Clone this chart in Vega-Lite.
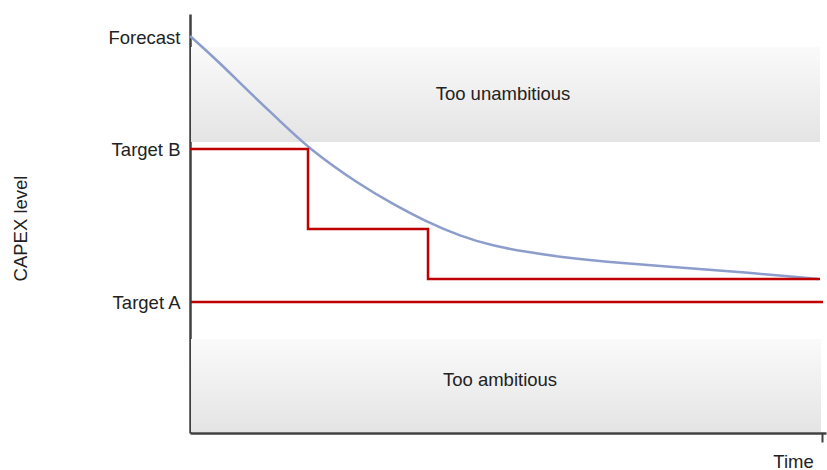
{
  "$schema": "https://vega.github.io/schema/vega-lite/v6.json",
  "width": 636,
  "height": 419,
  "autosize": "none",
  "padding": {"left": 190, "top": 14, "right": 1, "bottom": 37},
  "background": "white",
  "config": {
    "view": {"stroke": null},
    "font": "Liberation Sans",
    "text": {"font": "Liberation Sans"}
  },
  "datasets": {
    "bands": [
      {"band": "Too unambitious", "x": 1, "x2": 630, "y": 291, "y2": 386, "lx": 313, "ly": 339},
      {"band": "Too ambitious", "x": 1, "x2": 631, "y": 1, "y2": 94, "lx": 310, "ly": 53}
    ],
    "forecast": [
      {"t": 0, "v": 397},
      {"t": 30, "v": 370},
      {"t": 57, "v": 343},
      {"t": 90, "v": 312},
      {"t": 118, "v": 285},
      {"t": 170, "v": 248},
      {"t": 203, "v": 229},
      {"t": 237, "v": 211},
      {"t": 270, "v": 197},
      {"t": 303, "v": 187},
      {"t": 337, "v": 181},
      {"t": 370, "v": 176},
      {"t": 417, "v": 171},
      {"t": 483, "v": 166},
      {"t": 550, "v": 161},
      {"t": 628, "v": 154}
    ],
    "targetB": [
      {"i": 0, "t": 0, "v": 284},
      {"i": 1, "t": 118, "v": 284},
      {"i": 2, "t": 118, "v": 204},
      {"i": 3, "t": 238, "v": 204},
      {"i": 4, "t": 238, "v": 154},
      {"i": 5, "t": 630, "v": 154}
    ],
    "targetA": [
      {"i": 0, "t": 1, "v": 131},
      {"i": 1, "t": 633, "v": 131}
    ]
  },
  "layer": [
    {
      "data": {"name": "bands"},
      "mark": {
        "type": "rect",
        "color": {
          "gradient": "linear",
          "x1": 0, "y1": 0, "x2": 0, "y2": 1,
          "stops": [
            {"offset": 0, "color": "#fafafa"},
            {"offset": 1, "color": "#e4e4e4"}
          ]
        }
      },
      "encoding": {
        "x": {
          "field": "x", "type": "quantitative",
          "scale": {"domain": [0, 636], "nice": false, "zero": false},
          "axis": {
            "title": "Time",
            "titleFontSize": 18.5,
            "titleFontWeight": "normal",
            "titleColor": "#222222",
            "titleX": 603,
            "titleY": 28,
            "titleAlign": "center",
            "titleBaseline": "middle",
            "values": [636],
            "labels": false,
            "ticks": true,
            "tickSize": 9,
            "tickOffset": -4,
            "tickColor": "#404040",
            "tickWidth": 2,
            "grid": false,
            "domainColor": "#404040",
            "domainWidth": 2.5
          }
        },
        "x2": {"field": "x2"},
        "y": {
          "field": "y", "type": "quantitative",
          "scale": {"domain": [0, 419], "nice": false, "zero": false},
          "axis": {
            "title": "CAPEX level",
            "titleFontSize": 18.5,
            "titleFontWeight": "normal",
            "titleColor": "#222222",
            "titleX": -170,
            "titleY": 214,
            "titleAngle": -90,
            "titleAlign": "center",
            "titleBaseline": "middle",
            "values": [396, 284, 131],
            "labelExpr": "datum.value == 396 ? 'Forecast' : datum.value == 284 ? 'Target B' : 'Target A'",
            "labelFontSize": 18.5,
            "labelColor": "#222222",
            "labelPadding": 10,
            "ticks": false,
            "grid": false,
            "domainColor": "#404040",
            "domainWidth": 2.5
          }
        },
        "y2": {"field": "y2"}
      }
    },
    {
      "data": {"name": "bands"},
      "mark": {"type": "text", "fontSize": 18.5, "color": "#222222", "align": "center", "baseline": "middle"},
      "encoding": {
        "x": {"field": "lx", "type": "quantitative"},
        "y": {"field": "ly", "type": "quantitative"},
        "text": {"field": "band"}
      }
    },
    {
      "data": {"name": "forecast"},
      "mark": {"type": "line", "interpolate": "basis", "color": "#8c9dcc", "strokeWidth": 2.5},
      "encoding": {
        "x": {"field": "t", "type": "quantitative"},
        "y": {"field": "v", "type": "quantitative"}
      }
    },
    {
      "data": {"name": "targetB"},
      "mark": {"type": "line", "color": "#c00000", "strokeWidth": 2.5},
      "encoding": {
        "x": {"field": "t", "type": "quantitative"},
        "y": {"field": "v", "type": "quantitative"},
        "order": {"field": "i"}
      }
    },
    {
      "data": {"name": "targetA"},
      "mark": {"type": "line", "color": "#c00000", "strokeWidth": 2.5},
      "encoding": {
        "x": {"field": "t", "type": "quantitative"},
        "y": {"field": "v", "type": "quantitative"},
        "order": {"field": "i"}
      }
    }
  ]
}
